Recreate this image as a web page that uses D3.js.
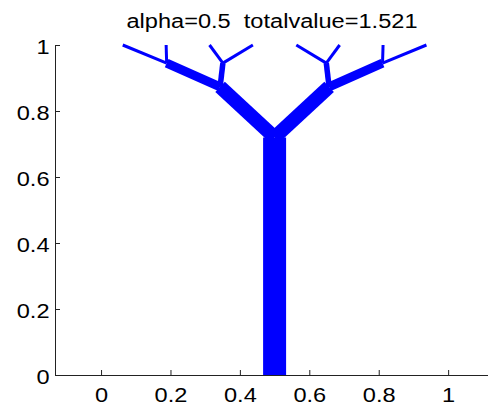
<!DOCTYPE html>
<html>
<head>
<meta charset="utf-8">
<script src="https://cdn.jsdelivr.net/npm/d3@7/dist/d3.min.js"></script>
<style>
  html, body { margin: 0; padding: 0; background: #fff; }
  svg { display: block; }
  text { font-family: "Liberation Sans", Arial, Helvetica, sans-serif; fill: #000; white-space: pre; }
</style>
</head>
<body>
<svg id="chart" width="488" height="407"></svg>
<script>
// ---- data ----
const titleText = "alpha=0.5  totalvalue=1.521";
const xTicks = [0, 0.2, 0.4, 0.6, 0.8, 1];
const yTicks = [0, 0.2, 0.4, 0.6, 0.8, 1];
const xTickLabels = ["0", "0.2", "0.4", "0.6", "0.8", "1"];
const yTickLabels = ["0", "0.2", "0.4", "0.6", "0.8", "1"];

// tree nodes (positions in data units)
const nodeNames = ["root", "J", "L1", "R1", "L2", "L3", "R2", "R3",
                   "p1", "p2", "p3", "p4", "p5", "p6", "p7", "p8"];
const nodeX = [0.5, 0.5, 0.343, 0.657, 0.189, 0.351, 0.811, 0.649,
               0.0625, 0.1875, 0.3125, 0.4375, 0.5625, 0.6875, 0.8125, 0.9375];
const nodeY = [0, 0.72, 0.873, 0.873, 0.945, 0.945, 0.945, 0.945,
               1, 1, 1, 1, 1, 1, 1, 1];
// edges of the transport tree and their relative flow (drawn width)
const edgeFrom = ["root", "J", "J", "L1", "L1", "R1", "R1", "L2", "L2", "L3", "L3", "R3", "R3", "R2", "R2"];
const edgeTo   = ["J", "L1", "R1", "L2", "L3", "R2", "R3", "p1", "p2", "p3", "p4", "p5", "p6", "p7", "p8"];
const edgeFlow = [1, 0.61, 0.61, 0.39, 0.24, 0.39, 0.24, 0.13, 0.13, 0.13, 0.13, 0.13, 0.13, 0.13, 0.13];

// ---- drawing ----
const svg = d3.select("#chart");
const x = d3.scaleLinear().domain([-0.1327, 1.133]).range([55, 494.3]);
const y = d3.scaleLinear().domain([0, 1]).range([375, 45]);
const w = d3.scaleLinear().domain([0, 1]).range([0, 23]);

const idx = {};
nodeNames.forEach((n, i) => idx[n] = i);
const edges = edgeFrom.map((f, i) => ({
  x1: nodeX[idx[f]], y1: nodeY[idx[f]],
  x2: nodeX[idx[edgeTo[i]]], y2: nodeY[idx[edgeTo[i]]],
  flow: edgeFlow[i]
}));

svg.append("g").selectAll("line").data(edges).join("line")
  .attr("x1", d => x(d.x1)).attr("y1", d => y(d.y1))
  .attr("x2", d => x(d.x2)).attr("y2", d => y(d.y2))
  .attr("stroke", "#0000ff")
  .attr("stroke-width", d => w(d.flow))
  .attr("stroke-linecap", "butt");

const sx = 1.21; // horizontal stretch of glyphs in the reference
const fs = 19.5;

// axes
const xAxis = d3.axisBottom(x).tickValues(xTicks).tickSizeInner(-5).tickSizeOuter(0).tickFormat((d, i) => xTickLabels[i]);
const gx = svg.append("g").attr("transform", `translate(0,${y(0)})`).call(xAxis);
const yAxis = d3.axisLeft(y).tickValues(yTicks).tickSizeInner(-5).tickSizeOuter(0).tickFormat((d, i) => yTickLabels[i]);
const gy = svg.append("g").attr("transform", `translate(${x.range()[0]},0)`).call(yAxis);

[gx, gy].forEach(g => {
  g.select(".domain").attr("stroke", "#222").attr("stroke-width", 1);
  g.selectAll(".tick line").attr("stroke", "#222").attr("stroke-width", 1);
  g.selectAll(".tick text").attr("font-size", fs + "px")
    .attr("font-family", '"Liberation Sans", Arial, sans-serif').attr("fill", "#000");
});
gx.selectAll(".tick text").attr("y", 0).attr("dy", 0)
  .attr("transform", `translate(0,27) scale(${sx},1)`).attr("text-anchor", "middle");
gy.selectAll(".tick text").attr("x", 0).attr("dy", "0.36em")
  .attr("transform", `translate(-5.5,1) scale(${sx},1)`).attr("text-anchor", "end");

// title
svg.append("text")
  .attr("transform", `translate(272,27.5) scale(${sx},1)`)
  .attr("text-anchor", "middle")
  .attr("font-size", fs + "px")
  .attr("xml:space", "preserve")
  .text(titleText);
</script>
</body>
</html>
